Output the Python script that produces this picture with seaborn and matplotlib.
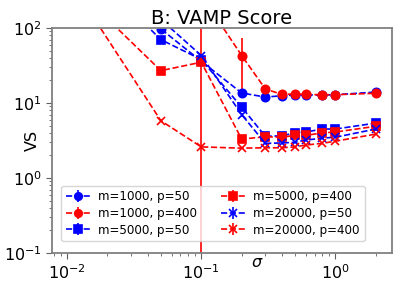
import numpy as np
import matplotlib
matplotlib.use("Agg")
import matplotlib.pyplot as plt
import seaborn as sns

sigma = [0.01, 0.05, 0.1, 0.2, 0.3, 0.4, 0.5, 0.6, 0.8, 1.0, 2.0]

labels = ["m=1000, p=50", "m=1000, p=400", "m=5000, p=50",
          "m=5000, p=400", "m=20000, p=50", "m=20000, p=400"]

vs_m1000_p50 = [1500, 97, 36, 13.6, 12.0, 12.5, 12.8, 12.8, 12.8, 12.9, 14.0]
vs_m1000_p400 = [2000, 600, 275, 43, 15.4, 13.0, 13.2, 13.0, 12.9, 12.9, 13.5]
vs_m5000_p50 = [1200, 70, 38, 8.8, 3.6, 3.65, 4.0, 4.1, 4.5, 4.5, 5.4]
vs_m5000_p400 = [440, 27, 35, 3.3, 3.55, 3.5, 3.7, 3.7, 4.0, 4.1, 4.9]
vs_m20000_p50 = [1500, 130, 43, 7.0, 2.9, 2.93, 3.0, 3.2, 3.4, 3.5, 4.5]
vs_m20000_p400 = [480, 5.8, 2.6, 2.5, 2.53, 2.53, 2.6, 2.75, 2.9, 3.1, 3.85]

err_m1000_p50 = [50, 3, 2, 1.0, 0.4, 0.4, 0.4, 0.4, 0.4, 0.4, 0.5]
err_m1000_p400 = [100, 50, 400, 30, 1.0, 0.5, 0.9, 0.5, 0.4, 0.4, 0.5]
err_m5000_p50 = [40, 3, 2, 0.6, 0.15, 0.15, 0.15, 0.15, 0.15, 0.15, 0.2]
err_m5000_p400 = [20, 1.5, 3, 0.2, 0.15, 0.15, 0.15, 0.15, 0.15, 0.15, 0.2]
err_m20000_p50 = [40, 4, 2, 0.4, 0.1, 0.1, 0.1, 0.1, 0.1, 0.1, 0.15]
err_m20000_p400 = [20, 0.3, 0.1, 0.1, 0.1, 0.1, 0.1, 0.1, 0.1, 0.1, 0.15]

series = [
    (vs_m1000_p50, err_m1000_p50, "blue", "o"),
    (vs_m1000_p400, err_m1000_p400, "red", "o"),
    (vs_m5000_p50, err_m5000_p50, "blue", "s"),
    (vs_m5000_p400, err_m5000_p400, "red", "s"),
    (vs_m20000_p50, err_m20000_p50, "blue", "x"),
    (vs_m20000_p400, err_m20000_p400, "red", "x"),
]

sns.set_style("ticks")
plt.rcParams["font.family"] = ["DejaVu Sans"]
plt.rcParams["text.color"] = "black"
plt.rcParams["axes.labelcolor"] = "black"
plt.rcParams["xtick.color"] = "black"
plt.rcParams["ytick.color"] = "black"

fig = plt.figure(figsize=(3.99, 2.83), dpi=100)
ax = fig.add_axes([0.130, 0.106, 0.852, 0.795])

for (vals, errs, col, mk), lab in zip(series, labels):
    ax.errorbar(sigma, vals, yerr=errs, color=col, marker=mk, ls="--",
                lw=1.2, ms=6, mew=1.2, elinewidth=1.2, capsize=0, label=lab)

ax.set_xscale("log")
ax.set_yscale("log")
ax.set_xlim(0.0077, 2.63)
ax.set_ylim(0.1, 100)

for s in ax.spines.values():
    s.set_color("#808080")
    s.set_linewidth(1.3)

ax.tick_params(axis="both", which="major", labelsize=11.5, length=4,
               color="#606060", labelcolor="black", direction="out")
ax.tick_params(axis="both", which="minor", length=2, color="#606060")

ax.set_title("B: VAMP Score", fontsize=14, pad=3, color="black")
ax.set_ylabel("VS", fontsize=11.5, color="black")
ax.yaxis.set_label_coords(-0.035, 0.5)
ax.set_xlabel(r"$\sigma$", fontsize=11.5, color="black")
ax.xaxis.set_label_coords(0.603, -0.01)

leg = ax.legend(ncol=2, loc="lower left", bbox_to_anchor=(0.01, 0.025),
                fontsize=8.6, frameon=True, handlelength=2.0,
                handletextpad=0.7, columnspacing=2.0,
                labelspacing=0.3, borderpad=0.4, markerscale=0.9)
for t in leg.get_texts():
    t.set_color("black")

fig.savefig("out.png", dpi=100)
